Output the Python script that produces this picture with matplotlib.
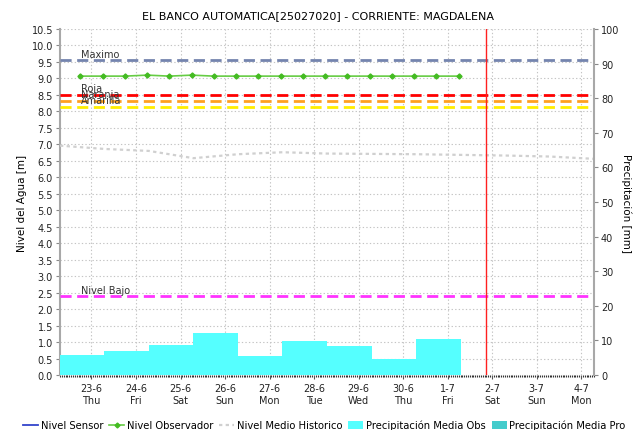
import matplotlib
matplotlib.use("Agg")
import matplotlib.pyplot as plt
import matplotlib.dates as mdates
from matplotlib.lines import Line2D
from matplotlib.patches import Patch
import pandas as pd

plt.rcParams["font.family"] = ["DejaVu Sans"]

title = "EL BANCO AUTOMATICA[25027020] - CORRIENTE: MAGDALENA"

# observer readings, twice a day (06:00 and 18:00)
obs_times = pd.date_range("2022-06-22 18:00", periods=18, freq="12h")
obs_levels = [9.07, 9.07, 9.07, 9.10, 9.07, 9.10, 9.07, 9.07, 9.07,
              9.07, 9.07, 9.07, 9.07, 9.07, 9.07, 9.07, 9.07, 9.07]

# historic mean level, one value per day at 07:00
hist_times = pd.date_range("2022-06-22 07:00", periods=13, freq="D")
hist_levels = [6.96, 6.86, 6.80, 6.58, 6.70, 6.76, 6.72, 6.71, 6.70,
               6.68, 6.66, 6.63, 6.56]

# daily precipitation (07:00 to 07:00), mm
rain_start = pd.date_range("2022-06-22 07:00", periods=9, freq="D")
rain_mm = [5.8, 6.9, 8.8, 12.1, 5.4, 9.9, 8.5, 4.5, 10.4]

# alert thresholds, m
thresholds = [
    ("Maximo", 9.55, "#7484AE"),
    ("Roja", 8.50, "#FF0000"),
    ("Naranja", 8.33, "#FFA020"),
    ("Amarilla", 8.13, "#FFEE00"),
    ("Nivel Bajo", 2.39, "#FF33FF"),
]

now = pd.Timestamp("2022-07-01 21:00")
x_start = pd.Timestamp("2022-06-22 07:00")
x_end = pd.Timestamp("2022-07-04 07:00")

fig = plt.figure(figsize=(6.36, 4.31), dpi=100)
ax = fig.add_axes([0.0943, 0.1276, 0.8397, 0.8028])
ax2 = ax.twinx()

grid_kw = dict(color="#C4C4C4", linestyle=(0, (1.2, 2.0)), linewidth=0.8)

# levels
for name, val, col in thresholds:
    ax.axhline(val, color=col, linestyle=(0, (4, 2)), linewidth=2, zorder=3)
    ax.text(pd.Timestamp("2022-06-22 18:30"), val + 0.05, name, fontsize=7,
            color="#333333", va="bottom", ha="left", zorder=4)

ax.plot(hist_times, hist_levels, color="#D0D0D0", linestyle=(0, (1.5, 1.5)),
        linewidth=1.6, zorder=3)
ax.plot(obs_times, obs_levels, color="#66CC44", linewidth=1.2, marker="D",
        markersize=2.6, markerfacecolor="#44BB22", markeredgecolor="#44BB22",
        zorder=4)
ax.axvline(now, color="#FF2020", linewidth=1.0, zorder=5)

ax.set_xlim(x_start, x_end)
ax.set_ylim(0, 10.5)
ax.set_yticks([i * 0.5 for i in range(22)])
ax.yaxis.set_major_formatter(plt.FormatStrFormatter("%.1f"))
ax.xaxis.set_major_locator(mdates.DayLocator())
ax.xaxis.set_major_formatter(mdates.DateFormatter("%-d-%-m\n%a"))
ax.xaxis.set_minor_locator(mdates.HourLocator())
ax.grid(True, which="major", **grid_kw)
ax.set_axisbelow(True)

# precipitation
ax2.bar(rain_start, rain_mm, width=1.0, align="edge", color="#55FFFF",
        edgecolor="none", zorder=2)
ax2.set_ylim(0, 100)
ax2.set_yticks(range(0, 101, 10))
ax2.set_xlim(x_start, x_end)

for a in (ax, ax2):
    a.spines["top"].set_visible(False)
    a.spines["left"].set_color("#A8A8A8")
    a.spines["right"].set_color("#A8A8A8")
    a.spines["bottom"].set_visible(False)
    a.tick_params(axis="y", labelsize=7, length=3, color="#888888",
                  labelcolor="#222222", pad=2)
ax.spines["right"].set_visible(False)
ax2.spines["left"].set_visible(False)
ax.spines["left"].set_linewidth(1.5)
ax2.spines["right"].set_linewidth(1.5)
ax.tick_params(axis="x", which="major", labelsize=7, length=3, pad=3,
               labelcolor="#222222", color="#555555")
ax.tick_params(axis="x", which="minor", length=1.5, width=0.8, color="#333333")

ax.set_ylabel("Nivel del Agua [m]", fontsize=7.5, labelpad=3)
ax2.set_ylabel("Precipitación [mm]", fontsize=7.5, rotation=-90, labelpad=9)
fig.suptitle(title, fontsize=8, y=0.975)

handles = [
    Line2D([], [], color="#3344CC", linewidth=1.3),
    Line2D([], [], color="#66CC44", linewidth=1.2, marker="D", markersize=2.5,
           markerfacecolor="#44BB22", markeredgecolor="#44BB22"),
    Line2D([], [], color="#D0D0D0", linestyle=(0, (1.5, 1.5)), linewidth=1.6),
    Patch(facecolor="#55FFFF", edgecolor="none"),
    Patch(facecolor="#44CCCC", edgecolor="none"),
]
labels = ["Nivel Sensor", "Nivel Observador", "Nivel Medio Historico",
          "Precipitación Media Obs", "Precipitación Media Pro"]
fig.legend(handles, labels, loc="lower center", bbox_to_anchor=(0.51, -0.022),
           ncol=5, frameon=False, fontsize=7.2, handlelength=1.5,
           handletextpad=0.25, columnspacing=0.6, handleheight=0.9)

fig.savefig("out.png", dpi=100)
